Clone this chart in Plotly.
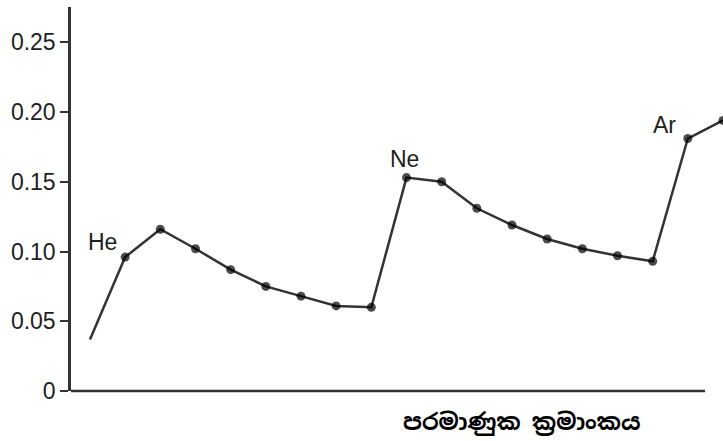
import plotly.graph_objects as go

# Atomic number (H .. K) and the plotted quantity
atomic_number = list(range(1, 20))
values = [0.037, 0.096, 0.116, 0.102, 0.087, 0.075, 0.068, 0.061, 0.060,
          0.153, 0.150, 0.131, 0.119, 0.109, 0.102, 0.097, 0.093, 0.181, 0.194]
marker_sizes = [0] + [9] * 18

y_tick_values = [0, 0.05, 0.10, 0.15, 0.20, 0.25]
y_tick_labels = ["0", "0.05", "0.10", "0.15", "0.20", "0.25"]

labels = [("He", 2, -23, 15), ("Ne", 10, -2, 19), ("Ar", 18, -23, 14)]
x_title = "පරමාණුක ක්‍රමාංකය"

x_start, x_axis_end, x_view_end = 0.46, 18.49, 19.0

FONT = "Liberation Sans, Arial, sans-serif"
INK = "#1e1e1e"
LINE = "#333333"

fig = go.Figure()
fig.add_trace(go.Scatter(
    x=atomic_number, y=values, mode="lines+markers",
    line=dict(color=LINE, width=2.5),
    marker=dict(color="#000000", size=marker_sizes, line=dict(width=0)),
    cliponaxis=False, hoverinfo="skip", showlegend=False,
))

for name, z, dx, dy in labels:
    fig.add_annotation(x=z, y=values[z - 1], text=name, showarrow=False,
                       xshift=dx, yshift=dy,
                       font=dict(family=FONT, size=23, color=INK))

fig.add_annotation(xref="paper", yref="paper", x=0.692, y=0, yshift=-31,
                   text="<b>" + x_title + "</b>", showarrow=False,
                   xanchor="center", yanchor="middle",
                   font=dict(family="Noto Sans Sinhala, Noto Sans, sans-serif",
                             size=23, color="#000000"))

# x-axis baseline (stops short of the last point, as in the original)
fig.add_shape(type="line", xref="x", yref="paper", x0=x_start, x1=x_axis_end,
              y0=0, y1=0, line=dict(color=LINE, width=2.5), layer="above")

fig.update_layout(
    width=723, height=441,
    margin=dict(l=71, r=0, t=7, b=50),
    paper_bgcolor="white", plot_bgcolor="white",
    font=dict(family=FONT, size=23, color=INK),
    xaxis=dict(range=[x_start, x_view_end], showline=False,
               showticklabels=False, ticks="", showgrid=False, zeroline=False),
    yaxis=dict(range=[0, 0.2753], showline=True, linecolor=LINE, linewidth=2.5,
               tickvals=y_tick_values, ticktext=y_tick_labels,
               ticks="outside", ticklen=8, tickwidth=2, tickcolor=LINE,
               showgrid=False, zeroline=False),
)

fig.write_html("out.html", config={"displayModeBar": False},
               post_script="document.body.style.margin='0';document.body.style.overflow='hidden';")
